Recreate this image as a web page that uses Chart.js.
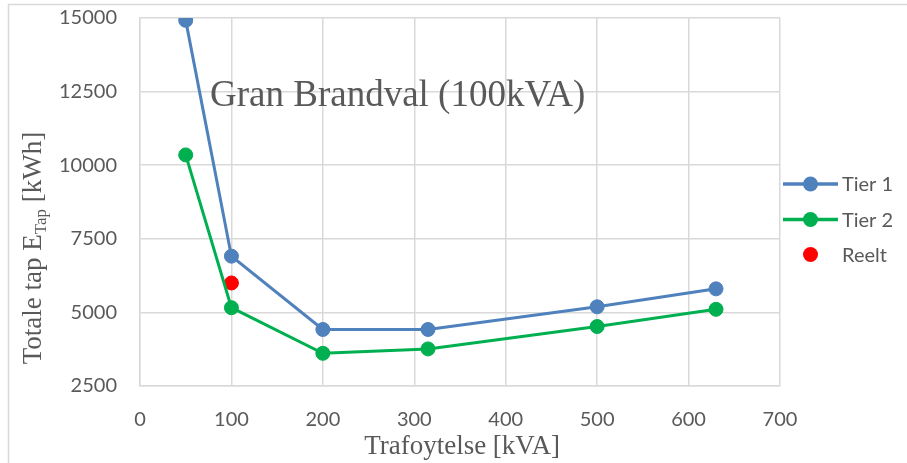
<!DOCTYPE html>
<html>
<head>
<meta charset="utf-8">
<script src="https://cdn.jsdelivr.net/npm/chart.js@4.4.1/dist/chart.umd.min.js"></script>
<style>
  html, body { margin: 0; padding: 0; background: #ffffff; }
  #wrap { width: 907px; height: 463px; position: relative; }
</style>
</head>
<body>
<div id="wrap"><canvas id="c" width="907" height="463"></canvas></div>
<script>
// ---- data ----
const tier1X = [50, 100, 200, 315, 500, 630];
const tier1Y = [14920, 6910, 4420, 4420, 5190, 5800];
const tier2X = [50, 100, 200, 315, 500, 630];
const tier2Y = [10350, 5160, 3610, 3760, 4520, 5105];
const reeltX = [100];
const reeltY = [6000];
const seriesNames = ['Tier 1', 'Tier 2', 'Reelt'];
const chartTitle = 'Gran Brandval (100kVA)';
const xTitle = 'Trafoytelse [kVA]';
const yTitleMain = 'Totale tap E';
const yTitleSub = 'Tap';
const yTitleEnd = ' [kWh]';
const xMin = 0, xMax = 700, xStep = 100;
const yMin = 2500, yMax = 15000, yStep = 2500;

const toPts = (xs, ys) => xs.map((x, i) => ({ x: x, y: ys[i] }));

const BLUE = '#4f81bd', GREEN = '#00b050', RED = '#ff0000';
const GRID = '#d9d9d9', TXT = '#595959';
const SANS = 'Lato, "Open Sans", sans-serif';
const SERIF = '"Liberation Serif", "DejaVu Serif", serif';

const decor = {
  id: 'decor',
  beforeDraw(chart) {
    const ctx = chart.ctx;
    ctx.save();
    ctx.fillStyle = '#ffffff';
    ctx.fillRect(0, 0, chart.width, chart.height);
    ctx.strokeStyle = GRID;
    ctx.lineWidth = 1.5;
    ctx.beginPath();
    ctx.moveTo(8.5, chart.height + 2);
    ctx.lineTo(8.5, 4.5);
    ctx.lineTo(chart.width + 2, 4.5);
    ctx.stroke();
    ctx.restore();
  },
  afterDraw(chart) {
    const ctx = chart.ctx;
    const ca = chart.chartArea;
    ctx.save();
    // in-plot title
    ctx.fillStyle = TXT;
    ctx.font = '37px ' + SERIF;
    ctx.textAlign = 'left';
    ctx.textBaseline = 'alphabetic';
    ctx.fillText(chartTitle, 210, 106);

    // x title
    ctx.font = '27px ' + SERIF;
    ctx.textAlign = 'center';
    ctx.fillText(xTitle, (ca.left + ca.right) / 2 + 2, 454);

    // y title with subscript
    const mainF = '27px ' + SERIF, subF = '17px ' + SERIF;
    ctx.font = mainF; const w1 = ctx.measureText(yTitleMain).width;
    const w3 = ctx.measureText(yTitleEnd).width;
    ctx.font = subF; const w2 = ctx.measureText(yTitleSub).width;
    const total = w1 + w2 + w3;
    ctx.translate(41, 248);
    ctx.rotate(-Math.PI / 2);
    ctx.textAlign = 'left';
    let x0 = -total / 2;
    ctx.font = mainF; ctx.fillText(yTitleMain, x0, 0);
    ctx.font = subF; ctx.fillText(yTitleSub, x0 + w1, 5);
    ctx.font = mainF; ctx.fillText(yTitleEnd, x0 + w1 + w2, 0);
    ctx.restore();

    // legend
    ctx.save();
    const lx = 783, lw = 55, tx = 842;
    const ys = [184, 219.5, 254.5];
    chart.data.datasets.forEach((ds, i) => {
      const y = ys[i];
      if (ds.showLine !== false) {
        ctx.strokeStyle = ds.borderColor;
        ctx.lineWidth = 3.5;
        ctx.beginPath();
        ctx.moveTo(lx, y);
        ctx.lineTo(lx + lw, y);
        ctx.stroke();
      }
      ctx.fillStyle = ds.pointBackgroundColor;
      ctx.beginPath();
      ctx.arc(lx + lw / 2, y, 7.5, 0, Math.PI * 2);
      ctx.fill();
      ctx.fillStyle = TXT;
      ctx.font = '20px ' + SANS;
      ctx.textAlign = 'left';
      ctx.textBaseline = 'middle';
      ctx.fillText(ds.label, tx, y + 1);
    });
    ctx.restore();
  }
};

const tickFmt = (v) => String(v);

new Chart(document.getElementById('c'), {
  type: 'scatter',
  data: {
    datasets: [
      { label: seriesNames[0], data: toPts(tier1X, tier1Y), showLine: true,
        borderColor: BLUE, backgroundColor: BLUE, pointBackgroundColor: BLUE,
        pointBorderColor: BLUE, borderWidth: 3, pointBorderWidth: 1, pointRadius: 7, pointHoverRadius: 7 },
      { label: seriesNames[1], data: toPts(tier2X, tier2Y), showLine: true,
        borderColor: GREEN, backgroundColor: GREEN, pointBackgroundColor: GREEN,
        pointBorderColor: GREEN, borderWidth: 3, pointBorderWidth: 1, pointRadius: 7, pointHoverRadius: 7 },
      { label: seriesNames[2], data: toPts(reeltX, reeltY), showLine: false,
        borderColor: RED, backgroundColor: RED, pointBackgroundColor: RED,
        pointBorderColor: RED, borderWidth: 1, pointBorderWidth: 1, pointRadius: 7, pointHoverRadius: 7 }
    ]
  },
  options: {
    responsive: false,
    animation: false,
    devicePixelRatio: 1,
    layout: { autoPadding: false, padding: { top: 18, right: 127, bottom: 0, left: 0 } },
    plugins: { legend: { display: false }, tooltip: { enabled: false }, title: { display: false } },
    scales: {
      x: {
        type: 'linear', min: xMin, max: xMax,
        afterFit(s) { s.height = 77; s.paddingLeft = 0; s.paddingRight = 0; },
        ticks: { stepSize: xStep, color: TXT, font: { family: SANS, size: 20 }, padding: 22, maxRotation: 0, callback: tickFmt },
        grid: { color: GRID, lineWidth: 1.5, drawTicks: false },
        border: { color: GRID, width: 1.5 }
      },
      y: {
        type: 'linear', min: yMin, max: yMax,
        afterFit(s) { s.width = 140; s.paddingTop = 0; s.paddingBottom = 0; },
        ticks: { stepSize: yStep, color: TXT, font: { family: SANS, size: 20 }, padding: 23, callback: tickFmt },
        grid: { color: GRID, lineWidth: 1.5, drawTicks: false },
        border: { color: GRID, width: 1.5 }
      }
    }
  },
  plugins: [decor]
});
</script>
</body>
</html>
